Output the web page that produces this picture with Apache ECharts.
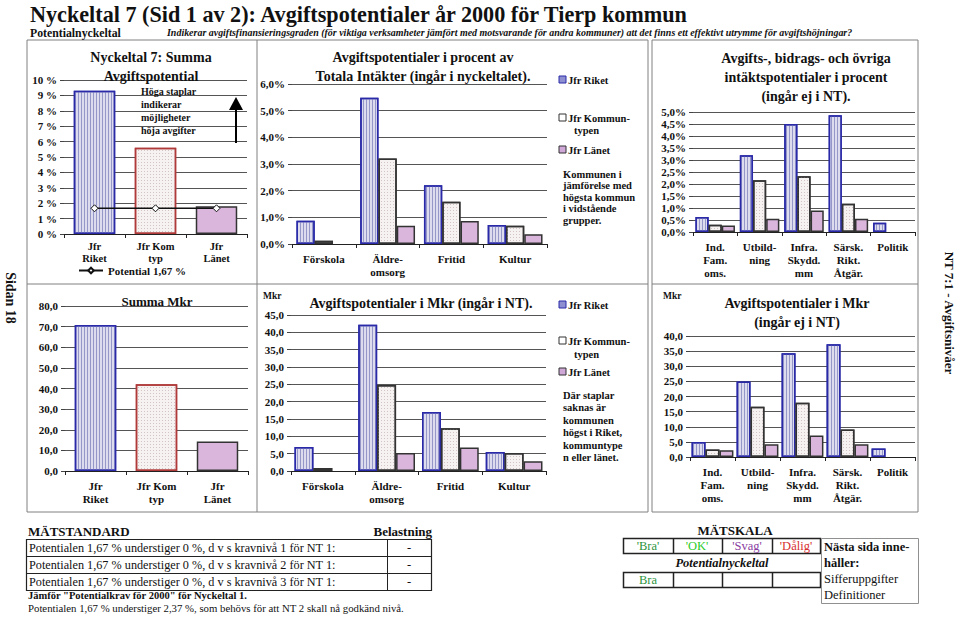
<!DOCTYPE html>
<html><head><meta charset="utf-8">
<script src="https://cdn.jsdelivr.net/npm/echarts@6/dist/echarts.min.js"></script>
<style>html,body{margin:0;padding:0;background:#fff}#c{width:960px;height:617px}</style>
</head><body><div id="c"></div>
<script>
// ---------- DATA ----------
const p1Categories = ['Jfr\nRiket', 'Jfr Kom\ntyp', 'Jfr\nLänet'];
const p1Values = [9.3, 5.6, 1.8];
const p1Potential = [1.67, 1.67, 1.67];

const p2Categories = ['Förskola', 'Äldre-\nomsorg', 'Fritid', 'Kultur'];
const p2Riket = [0.87, 5.48, 2.2, 0.71];
const p2Kom = [0.12, 3.21, 1.58, 0.68];
const p2Lanet = [null, 0.68, 0.86, 0.37];

const p3Categories = ['Ind.\nFam.\noms.', 'Utbild-\nning', 'Infra.\nSkydd.\nmm', 'Särsk.\nRikt.\nÅtgär.', 'Politik'];
const p3Riket = [0.63, 3.2, 4.5, 4.86, 0.39];
const p3Kom = [0.3, 2.16, 2.32, 1.18, null];
const p3Lanet = [0.27, 0.55, 0.9, 0.55, null];

const p4Categories = ['Jfr\nRiket', 'Jfr Kom\ntyp', 'Jfr\nLänet'];
const p4Values = [70.8, 42.1, 14.3];

const p5Categories = ['Förskola', 'Äldre-\nomsorg', 'Fritid', 'Kultur'];
const p5Riket = [6.9, 42.2, 17.0, 5.5];
const p5Kom = [0.9, 24.8, 12.3, 5.2];
const p5Lanet = [null, 5.2, 6.8, 2.8];

const p6Categories = ['Ind.\nFam.\noms.', 'Utbild-\nning', 'Infra.\nSkydd.\nmm', 'Särsk.\nRikt.\nÅtgär.', 'Politik'];
const p6Riket = [5.0, 25.0, 34.3, 37.3, 2.8];
const p6Kom = [2.5, 16.6, 17.9, 9.1, null];
const p6Lanet = [2.2, 4.2, 7.1, 4.2, null];

const seriesNames = ['Jfr Riket', 'Jfr Kommuntypen', 'Jfr Länet'];
const potentialName = 'Potential 1,67 %';

// ---------- STYLE ----------
const SERIF = '"Liberation Serif", "Times New Roman", serif';
const INK = '#111';
const riketStyle = {color:'#dcdcee', borderColor:'#2a2aa8', borderWidth:1.5,
  decal:{symbol:'rect', symbolSize:1, dashArrayX:[1,2], dashArrayY:[1,0], color:'#9597c8'}};
const komStyle = {color:'#f6f2f2', borderColor:'#333', borderWidth:1.5,
  decal:{symbol:'rect', symbolSize:1, dashArrayX:[1,2], dashArrayY:[1,2], color:'#d2c4c4'}};
const komRedStyle = Object.assign({}, komStyle, {borderColor:'#b03a3a'});
const lanetStyle = {color:'#dab6dd', borderColor:'#333', borderWidth:1.5};

const ctx = document.createElement('canvas').getContext('2d');
function fontStr(o){ return `${o.style||'normal'} ${o.weight||'normal'} ${o.size||12}px ${SERIF}`; }
function measure(text, o){ ctx.font = fontStr(o); return ctx.measureText(text).width; }
function T(x, y, text, o={}) {
  let sx = 1;
  if (o.w) sx = o.w / measure(text, o);
  return {type:'text', x, y, scaleX:sx, rotation:o.rot||0, z:100, silent:true,
    style:{text, fill:o.color||INK, fontSize:o.size||12, fontWeight:o.weight||'normal',
      fontStyle:o.style||'normal', fontFamily:SERIF, textAlign:o.align||'left', textVerticalAlign:'middle'}};
}
function R(x, y, w, h, stroke, lw, fill) {
  return {type:'rect', z:50, silent:true, shape:{x, y, width:w, height:h},
    style:{fill:fill||'none', stroke:stroke||'#808080', lineWidth:lw||1}};
}
function L(x1, y1, x2, y2, stroke, lw) {
  return {type:'line', z:50, silent:true, shape:{x1, y1, x2, y2}, style:{stroke:stroke||'#808080', lineWidth:lw||1}};
}

function fmtComma(d){ return v => v.toFixed(d).replace('.', ','); }

function xCat(gi, data, lab) {
  return {type:'category', gridIndex:gi, data, boundaryGap:true,
    axisLine:{show:true, lineStyle:{color:'#222', width:1}},
    axisTick:{show:true, length:4, inside:false, lineStyle:{color:'#222'}},
    axisLabel:Object.assign({interval:0, color:INK, fontFamily:SERIF, fontWeight:'bold', fontSize:11, lineHeight:13, margin:8}, lab||{}),
    splitLine:{show:false}};
}
function yVal(gi, max, interval, fmt) {
  return {type:'value', gridIndex:gi, min:0, max, interval,
    axisLine:{show:false}, axisTick:{show:true, length:4, lineStyle:{color:'#444'}},
    splitLine:{show:true, lineStyle:{color:'#555', width:1}},
    axisLabel:{formatter:fmt, color:INK, fontFamily:SERIF, fontWeight:'bold', fontSize:11, margin:7}};
}
function bar(gi, name, data, style, gap) {
  return {type:'bar', name, xAxisIndex:gi, yAxisIndex:gi, data, itemStyle:style,
    barGap:'0%', barCategoryGap:gap, silent:true, animation:false};
}
function singleBars(gi, values, styles, gap) {
  return {type:'bar', name:'Summa', xAxisIndex:gi, yAxisIndex:gi, barCategoryGap:gap, silent:true, animation:false,
    data: values.map((v, i) => ({value:v, itemStyle:styles[i]}))};
}

const grids = [
  {left:64, top:80, width:183, height:154},
  {left:292, top:84, width:255, height:160},
  {left:693, top:112, width:222, height:120},
  {left:65, top:306, width:183, height:165},
  {left:291, top:315, width:255, height:156},
  {left:690, top:336, width:225, height:121}
].map(g => Object.assign({outerBoundsMode:'none', containLabel:false, show:false}, g));

const xAxes = [xCat(0,p1Categories,{fontSize:10.5, lineHeight:12, margin:6}), xCat(1,p2Categories), xCat(2,p3Categories),
               xCat(3,p4Categories), xCat(4,p5Categories), xCat(5,p6Categories)];
const yAxes = [yVal(0,10,1,v=>v+' %'), yVal(1,6,1,v=>fmtComma(1)(v)+'%'), yVal(2,5,0.5,v=>fmtComma(1)(v)+'%'),
               yVal(3,80,10,fmtComma(1)), yVal(4,45,5,fmtComma(1)), yVal(5,40,5,fmtComma(1))];

const series = [
  singleBars(0, p1Values, [riketStyle, komRedStyle, lanetStyle], '32%'),
  {type:'line', name:potentialName, xAxisIndex:0, yAxisIndex:0, data:p1Potential, symbol:'diamond', symbolSize:7,
   itemStyle:{color:'#fff', borderColor:'#111', borderWidth:1}, lineStyle:{color:'#111', width:1.5}, silent:true, animation:false, z:5},
  bar(1, seriesNames[0], p2Riket, riketStyle, '14%'),
  bar(1, seriesNames[1], p2Kom, komStyle, '14%'),
  bar(1, seriesNames[2], p2Lanet, lanetStyle, '14%'),
  bar(2, seriesNames[0], p3Riket, riketStyle, '11%'),
  bar(2, seriesNames[1], p3Kom, komStyle, '11%'),
  bar(2, seriesNames[2], p3Lanet, lanetStyle, '11%'),
  singleBars(3, p4Values, [riketStyle, komRedStyle, lanetStyle], '32%'),
  bar(4, seriesNames[0], p5Riket, riketStyle, '11%'),
  bar(4, seriesNames[1], p5Kom, komStyle, '11%'),
  bar(4, seriesNames[2], p5Lanet, lanetStyle, '11%'),
  bar(5, seriesNames[0], p6Riket, riketStyle, '7%'),
  bar(5, seriesNames[1], p6Kom, komStyle, '7%'),
  bar(5, seriesNames[2], p6Lanet, lanetStyle, '7%')
];

// ---------- GRAPHIC (frames, titles, notes, tables) ----------
const B = 'bold';
const g = [];
// frames
g.push(R(27, 40, 621, 472), R(652, 40, 266, 472));
g.push(L(257, 40, 257, 512), L(27, 284, 648, 284), L(652, 284, 918, 284));
// header
g.push(T(30, 14, 'Nyckeltal 7 (Sid 1 av 2): Avgiftspotentialer år 2000 för Tierp kommun', {size:24, weight:B, w:660}));
g.push(T(30, 33, 'Potentialnyckeltal', {size:12, weight:B, w:91}));
g.push(T(167, 32, 'Indikerar avgiftsfinansieringsgraden (för viktiga verksamheter jämfört med motsvarande för andra kommuner) att det finns ett effektivt utrymme för avgiftshöjningar?', {size:11, weight:B, style:'italic', w:686}));
// side labels
g.push(T(10, 298, 'Sidan 18', {size:14, weight:B, align:'center', rot:-Math.PI/2}));
g.push(T(949, 313, 'NT 7:1 - Avgiftsnivåer', {size:13, weight:B, align:'center', rot:-Math.PI/2}));
// panel 1
g.push(T(151, 57, 'Nyckeltal 7: Summa', {size:14, weight:B, align:'center'}));
g.push(T(151, 76, 'Avgiftspotential', {size:14, weight:B, align:'center'}));
['Höga staplar','indikerar','möjligheter','höja avgifter'].forEach((s,i)=>g.push(T(141, 91+i*13, s, {size:10, weight:B})));
g.push(L(236, 143, 236, 108, '#000', 2));
g.push({type:'polygon', z:60, silent:true, shape:{points:[[229,110],[243,110],[236,97]]}, style:{fill:'#000'}});
// panel 2 title
g.push(T(423, 57, 'Avgiftspotentialer i procent av', {size:14, weight:B, align:'center'}));
g.push(T(423, 76, 'Totala Intäkter (ingår i nyckeltalet).', {size:14, weight:B, align:'center'}));
// legends
function legendBlock(y0, yK, yT, yL, notes, ny0, nstep) {
  g.push(R(559, y0-4, 7, 7, '#2a2aa8', 1, '#8d8fd0'));
  g.push(T(568, y0, 'Jfr Riket', {size:10.5, weight:B}));
  g.push(R(559, yK-4, 7, 7, '#333', 1, '#fff'));
  g.push(T(568, yK, 'Jfr Kommun-', {size:10.5, weight:B}));
  g.push(T(574, yT, 'typen', {size:10.5, weight:B}));
  g.push(R(559, yL-4, 7, 7, '#333', 1, '#d0a8d8'));
  g.push(T(568, yL, 'Jfr Länet', {size:10.5, weight:B}));
  notes.forEach((s,i)=>g.push(T(563, ny0+i*nstep, s, {size:10.5, weight:B})));
}
legendBlock(80, 118, 130, 150, ['Kommunen i','jämförelse med','högsta kommun','i vidstående','grupper.'], 174, 11.5);
legendBlock(305, 341, 354, 372, ['Där staplar','saknas är','kommunen','högst i Riket,','kommuntype','n eller länet.'], 395, 12.5);
// panel 3 title
['Avgifts-, bidrags- och övriga','intäktspotentialer i procent','(ingår ej i NT).'].forEach((s,i)=>g.push(T(806, 58+i*19, s, {size:14, weight:B, align:'center'})));
// panel 4/5/6 titles
g.push(T(157, 301, 'Summa Mkr', {size:13, weight:B, align:'center'}));
g.push(T(263, 296, 'Mkr', {size:9.5, weight:B}));
g.push(T(421, 303, 'Avgiftspotentialer i Mkr (ingår i NT).', {size:14, weight:B, align:'center'}));
g.push(T(663, 296, 'Mkr', {size:9.5, weight:B}));
g.push(T(797, 303, 'Avgiftspotentialer i Mkr', {size:14, weight:B, align:'center'}));
g.push(T(797, 322, '(ingår ej i NT)', {size:14, weight:B, align:'center'}));
// bottom-left table
g.push(T(28, 531, 'MÄTSTANDARD', {size:13, weight:B}));
g.push(T(432, 531, 'Belastning', {size:13, weight:B, align:'right'}));
g.push(R(26.5, 539.5, 405, 51, '#222', 1.2));
g.push(L(26.5, 556.5, 431.5, 556.5, '#222', 1), L(26.5, 573.5, 431.5, 573.5, '#222', 1), L(387.5, 539.5, 387.5, 590.5, '#222', 1));
[1,2,3].forEach((k,i)=>{
  g.push(T(29, 548+i*17, 'Potentialen 1,67 % understiger 0 %, d v s kravnivå ' + k + ' för NT 1:', {size:12.5, w:307}));
  g.push(T(409, 548+i*17, '-', {size:12.5, align:'center'}));
});
g.push(T(28, 595, 'Jämför "Potentialkrav för 2000" för Nyckeltal 1.', {size:10.5, weight:B}));
g.push(T(28, 609, 'Potentialen 1,67 % understiger 2,37 %, som behövs för att NT 2 skall nå godkänd nivå.', {size:10.5, w:377}));
// bottom-right scale table
g.push(T(735, 530, 'MÄTSKALA', {size:13, weight:B, align:'center'}));
g.push(R(623.5, 538.5, 197, 15, '#222', 1.5), R(623.5, 572.5, 197, 15, '#222', 1.5));
[673, 722, 772].forEach(x => { g.push(L(x+0.5, 538.5, x+0.5, 553.5, '#222', 1.5), L(x+0.5, 572.5, x+0.5, 587.5, '#222', 1.5)); });
[["'Bra'", 648, '#2e9440'], ["'OK'", 697, '#2ccc2c'], ["'Svag'", 747, '#8a3ea2'], ["'Dålig'", 796, '#d83030']]
  .forEach(a => g.push(T(a[1], 546, a[0], {size:12.5, align:'center', color:a[2]})));
g.push(T(722, 563, 'Potentialnyckeltal', {size:12.5, weight:B, style:'italic', align:'center'}));
g.push(T(648, 580, 'Bra', {size:12.5, align:'center', color:'#2e9440'}));
g.push(R(821.5, 538.5, 97, 65, '#909090', 1));
g.push(T(824, 547, 'Nästa sida inne-', {size:12.5, weight:B}));
g.push(T(824, 563, 'håller:', {size:12.5, weight:B}));
g.push(T(824, 579, 'Sifferuppgifter', {size:12.5}));
g.push(T(824, 595, 'Definitioner', {size:12.5}));

const chart = echarts.init(document.getElementById('c'), null, {renderer:'svg', width:960, height:617});
chart.setOption({
  animation:false,
  backgroundColor:'#fff',
  textStyle:{fontFamily:SERIF},
  grid:grids, xAxis:xAxes, yAxis:yAxes, series,
  legend:{show:true, data:[potentialName], left:78, top:265, itemWidth:24, itemHeight:7, padding:0,
    textStyle:{fontFamily:SERIF, fontWeight:'bold', fontSize:11, color:INK}},
  tooltip:{show:false},
  graphic:g
});
</script></body></html>
